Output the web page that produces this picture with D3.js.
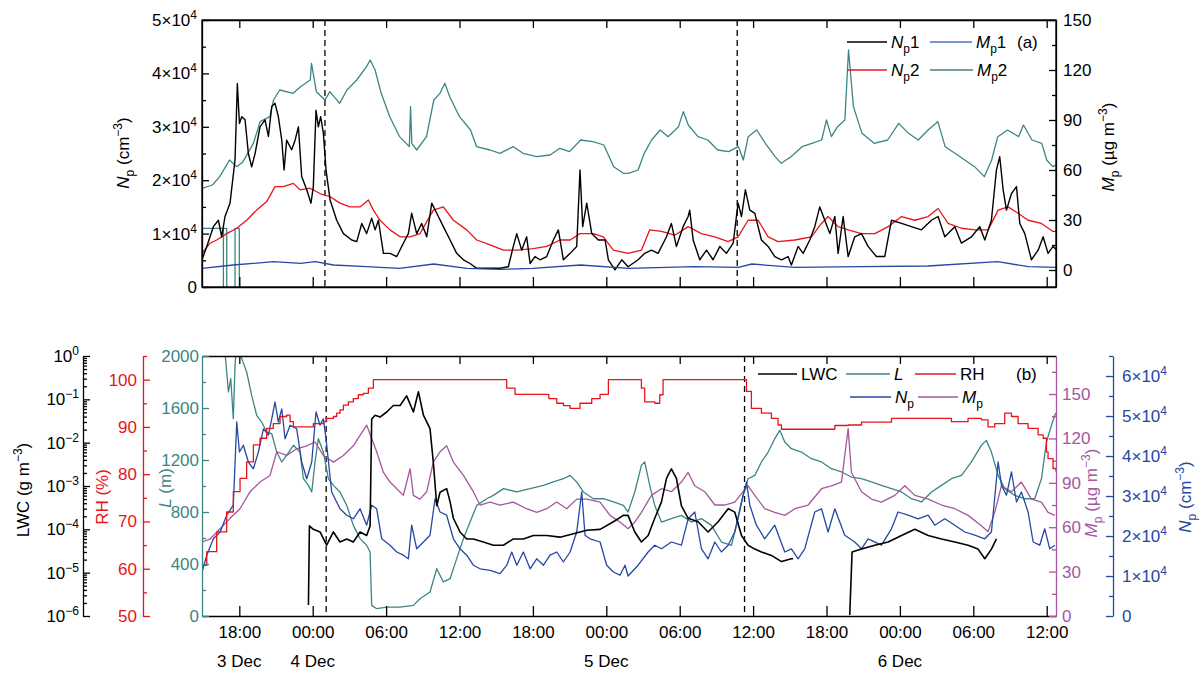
<!DOCTYPE html>
<html>
<head>
<meta charset="utf-8">
<script src="https://cdn.jsdelivr.net/npm/d3@7"></script>
<style>
  body { margin: 0; background: #fff; }
  svg text { font-family: "Liberation Sans", Arial, sans-serif; }
</style>
</head>
<body>
<script>
// time axis: hours after 3 Dec 00:00
var timeTicks = [18, 24, 30, 36, 42, 48, 54, 60, 66, 72, 78, 84];
var dayLabels = [[18, '3 Dec'], [24, '4 Dec'], [48, '5 Dec'], [72, '6 Dec']];
var dashTop = [25.0, 58.7];
var dashBottom = [25.1, 59.3];

// panel (a), Np in 10^4 cm^-3, Mp in ug m^-3
var np1 = [[14.95,0.51],[15.34,0.76],[15.88,1.13],[16.29,1.25],[16.56,0.94],[16.83,1.32],[17.24,1.57],[17.65,2.38],[17.84,3.81],[18.01,3.06],[18.2,3.19],[18.47,3.13],[18.74,2.5],[19.01,2.25],[19.29,2.5],[19.69,3.0],[20.1,3.13],[20.38,2.82],[20.65,3.38],[20.92,3.44],[21.19,3.19],[21.47,2.75],[21.66,2.19],[21.87,2.75],[22.28,2.57],[22.56,2.75],[22.83,3.0],[23.1,2.07],[23.51,1.82],[23.86,1.57],[24.05,1.88],[24.27,3.31],[24.46,3.0],[24.65,3.19],[24.87,2.88],[25.09,2.19],[25.42,1.63],[25.96,1.25],[26.51,1.0],[27.19,0.88],[27.6,0.85],[28.01,1.19],[28.41,1.0],[28.82,1.29],[29.1,1.07],[29.37,1.25],[29.78,0.63],[30.32,0.63],[30.87,0.57],[31.41,0.82],[31.82,1.0],[32.09,1.38],[32.5,1.0],[32.91,1.19],[33.32,0.94],[33.73,1.57],[34.14,1.38],[34.68,1.13],[35.23,0.88],[35.77,0.63],[36.32,0.51],[36.86,0.44],[37.41,0.35],[38.22,0.35],[39.31,0.35],[39.99,0.38],[40.4,0.76],[40.68,1.0],[41.08,0.69],[41.49,0.94],[41.77,0.44],[42.17,0.57],[42.58,0.51],[43.13,0.57],[43.67,0.88],[44.08,1.07],[44.49,0.51],[45.04,0.63],[45.58,0.76],[45.85,2.19],[46.07,1.13],[46.4,1.57],[46.81,1.0],[47.35,0.88],[47.9,0.88],[48.17,0.51],[48.71,0.32],[49.26,0.51],[49.78,0.38],[50.6,0.51],[51.14,0.63],[51.69,0.69],[52.23,0.63],[52.92,0.94],[53.32,1.19],[53.73,0.76],[54.28,1.13],[54.69,1.32],[54.82,1.44],[55.1,0.88],[55.64,0.51],[56.19,0.69],[56.73,0.51],[57.28,0.76],[57.82,0.63],[58.37,0.82],[58.77,1.57],[59.05,1.32],[59.37,1.82],[59.73,1.44],[60.14,1.38],[60.68,0.88],[61.23,0.76],[61.77,0.57],[62.32,0.51],[62.86,0.57],[63.13,0.41],[63.68,0.76],[64.09,0.63],[64.63,0.88],[65.04,1.13],[65.45,1.5],[65.86,1.25],[66.27,1.0],[66.68,1.32],[66.95,0.63],[67.36,1.32],[67.77,0.57],[68.31,0.94],[68.86,1.0],[69.4,0.76],[70.08,0.57],[70.76,0.57],[71.31,1.25],[72.13,1.19],[72.94,1.13],[73.76,1.07],[74.58,1.25],[75.12,1.32],[75.67,0.94],[76.49,1.13],[77.03,0.82],[77.85,0.94],[78.53,1.13],[78.94,0.88],[79.48,1.25],[79.89,2.19],[80.16,2.44],[80.44,1.82],[80.71,1.44],[81.12,1.75],[81.53,1.88],[81.8,1.19],[82.21,1.0],[82.75,0.51],[83.3,0.69],[83.71,0.94],[84.11,0.63],[84.52,0.76],[84.76,0.7]];
var np2 = [[14.95,0.63],[15.61,0.82],[16.15,0.88],[16.97,1.0],[17.79,1.1],[18.6,1.25],[19.42,1.44],[20.24,1.6],[20.92,1.88],[21.6,1.88],[22.42,1.94],[22.96,1.82],[23.78,1.85],[24.6,1.75],[25.42,1.69],[26.23,1.57],[27.05,1.5],[27.87,1.5],[28.55,1.63],[28.96,1.44],[29.5,1.25],[30.32,1.07],[31.14,0.94],[31.96,0.94],[32.77,1.0],[33.86,1.44],[34.68,1.5],[35.5,1.25],[36.59,1.07],[37.41,0.88],[38.5,0.79],[39.59,0.69],[40.68,0.69],[42.04,0.72],[43.13,0.76],[44.22,0.88],[45.04,0.88],[45.85,1.0],[46.94,1.0],[47.76,0.94],[48.58,0.69],[49.78,0.63],[50.87,0.69],[51.55,1.07],[52.51,1.04],[53.6,0.97],[54.69,1.13],[55.78,1.0],[56.87,0.94],[57.96,0.85],[58.77,0.94],[59.59,1.25],[60.41,1.25],[61.23,0.94],[62.04,0.85],[63.41,0.88],[64.77,0.94],[65.59,1.19],[66.13,1.32],[66.95,1.13],[67.77,1.07],[68.86,1.0],[69.95,1.0],[71.04,1.13],[72.13,1.32],[73.22,1.25],[74.31,1.32],[75.12,1.47],[75.94,1.19],[77.03,1.1],[78.12,1.07],[79.21,1.07],[80.03,1.44],[80.84,1.5],[81.66,1.38],[82.48,1.25],[83.57,1.19],[84.52,1.04],[84.76,1.04]];
var mp1 = [[14.95,1],[17.5,3],[20.8,5],[23.0,4],[24.2,5],[25.7,3],[28.4,2],[31.1,1],[33.9,3.6],[36.6,1],[39.3,0.4],[42.0,1],[45.9,3],[49.8,1],[55.2,2],[58.8,1.6],[59.9,3.6],[63.4,1.6],[68.9,2],[74.3,2.4],[80.0,5],[82.5,2],[84.76,1.6]];
var mp2 = [[14.95,49],[15.8,51],[16.4,56],[17.2,66],[17.8,62],[18.3,65],[19.15,76],[19.7,89],[20.5,92],[20.8,102],[21.3,108],[22.4,106],[23.0,110],[23.8,114],[23.9,124],[24.3,107],[25.0,102],[25.4,107],[26.2,100],[26.8,108],[27.6,114],[28.4,122],[28.7,126],[29.1,120],[29.6,106],[30.3,92],[31.1,80],[31.9,74],[32.0,98],[32.1,76],[32.5,72],[33.3,80],[33.9,102],[34.4,106],[34.8,112],[35.2,104],[36.0,92],[36.9,84],[37.4,74],[38.5,72],[39.3,70],[40.4,74],[41.2,70],[42.3,68],[43.4,69],[44.2,73],[45.0,71],[45.9,78],[46.9,77],[47.8,75],[48.6,62],[49.4,58],[49.8,58],[50.6,60],[51.1,70],[51.7,78],[52.4,84],[53.05,80],[53.9,86],[54.3,95],[54.7,87],[55.5,80],[56.3,78],[57.1,72],[58.0,71],[58.8,74],[59.2,66],[59.6,80],[60.3,84],[61.0,76],[61.8,68],[62.3,64],[63.1,68],[64.0,74],[64.8,76],[65.6,78],[66.0,90],[66.4,80],[66.9,86],[67.5,90],[67.8,132],[68.2,98],[68.9,82],[69.9,76],[71.0,78],[71.9,88],[72.7,82],[73.5,78],[74.3,84],[75.1,89],[75.7,74],[76.5,70],[77.3,66],[78.1,62],[78.9,56],[79.5,66],[80.0,80],[80.8,84],[81.7,80],[82.1,87],[82.8,78],[83.6,76],[84.0,66],[84.5,62],[84.76,63]];
// the flat segments and drops of Mp2 at the start of the record
var mp2Gap = [[14.95,25],[16.97,25],[16.97,-11],[16.97,null],[16.7,-11],[16.7,25],[16.7,null],[17.65,-11],[17.65,25],[18.0,25],[18.0,-11]];

// panel (b)
var lwc = [[23.65,1.8e-6],[23.73,1.2e-4],[24.05,1.0e-4],[24.6,8.7e-5],[25.14,4.3e-5],[25.69,8.7e-5],[26.23,5.1e-5],[26.78,6.0e-5],[27.32,5.1e-5],[27.87,8.7e-5],[28.41,7.2e-5],[28.69,1.2e-4],[28.82,3.5e-2],[29.1,4.3e-2],[29.5,3.9e-2],[30.05,5.1e-2],[30.59,7.2e-2],[31.14,7.2e-2],[31.68,0.12],[32.23,5.1e-2],[32.64,0.15],[33.05,4.3e-2],[33.59,2.1e-2],[33.86,3.5e-3],[34.14,3.5e-4],[34.41,7.2e-4],[34.95,8.7e-4],[35.23,4.3e-4],[35.5,1.8e-4],[36.04,8.7e-5],[36.59,6.0e-5],[37.13,6.0e-5],[37.95,5.1e-5],[38.77,4.3e-5],[39.59,4.3e-5],[40.4,6.0e-5],[41.22,6.0e-5],[42.04,7.2e-5],[43.13,7.2e-5],[44.22,6.6e-5],[45.31,7.9e-5],[46.4,9.5e-5],[47.49,1.0e-4],[48.58,1.5e-4],[49.39,2.1e-4],[49.78,2.1e-4],[50.33,8.7e-5],[50.87,5.1e-5],[51.42,7.2e-5],[51.96,1.8e-4],[52.51,4.3e-4],[52.92,1.5e-3],[53.32,2.5e-3],[53.73,1.5e-3],[54.14,3.5e-4],[54.69,1.8e-4],[55.5,1.5e-4],[56.32,8.7e-5],[57.14,1.5e-4],[57.96,3.0e-4],[58.5,2.5e-4],[59.05,7.2e-5],[59.59,4.3e-5],[60.14,3.5e-5],[60.68,3.0e-5],[61.5,2.5e-5],[62.32,1.8e-5],[63.13,2.1e-5],[63.27,2.1e-5],[65.0,null],[67.9,1.05e-6],[68.09,3.0e-5],[68.86,3.5e-5],[69.95,4.3e-5],[71.04,5.1e-5],[72.13,7.2e-5],[73.22,1.0e-4],[74.31,7.2e-5],[75.4,6.0e-5],[76.49,5.1e-5],[77.57,4.3e-5],[78.39,3.5e-5],[78.94,2.1e-5],[79.48,3.5e-5],[79.89,6.0e-5]];
var visL = [[16.8,2300],[16.83,2030],[17.11,1723],[17.3,1826],[17.51,1518],[17.65,1928],[17.79,2100],[18.2,1980],[18.6,1877],[19.01,1697],[19.42,1544],[19.83,1492],[20.24,1415],[20.65,1402],[21.06,1261],[21.47,1185],[21.87,1236],[22.42,1313],[22.96,1261],[23.24,1056],[23.65,1005],[23.92,954],[24.19,1185],[24.46,1364],[24.87,1261],[25.28,1056],[25.69,1005],[26.23,954],[26.78,851],[27.32,697],[27.87,595],[28.41,544],[28.69,492],[28.82,82],[29.23,56],[30.05,69],[31.14,69],[32.23,82],[32.77,133],[33.59,185],[34.14,364],[34.68,262],[35.23,287],[35.77,441],[36.32,595],[36.86,723],[37.41,851],[38.22,902],[38.77,928],[39.59,980],[40.68,954],[41.77,980],[42.86,1005],[43.67,1031],[44.49,1056],[45.04,1082],[45.58,1031],[46.13,954],[46.94,902],[47.76,902],[48.58,877],[49.39,851],[49.78,800],[50.33,954],[50.87,1159],[51.14,1185],[51.55,1005],[51.96,851],[52.51,723],[53.32,749],[54.14,774],[54.96,723],[55.78,749],[56.59,697],[57.41,569],[58.23,544],[58.77,749],[59.18,928],[59.59,1056],[60.14,1082],[60.68,1185],[61.23,1261],[61.77,1364],[62.18,1428],[62.59,1338],[63.13,1287],[63.95,1261],[64.77,1210],[65.59,1185],[66.4,1133],[67.22,1108],[68.04,1069],[68.86,1056],[69.67,1031],[70.49,1005],[71.31,980],[72.13,954],[72.94,902],[73.76,877],[74.58,954],[75.4,1005],[76.21,1056],[77.03,1082],[77.85,1185],[78.66,1313],[79.07,1351],[79.48,1261],[80.03,1082],[80.57,980],[81.39,928],[82.21,902],[83.02,902],[83.57,1056],[83.98,1338],[84.39,1467],[84.66,1544],[84.76,1560]];
var rh = [[14.95,60.7],[15.34,63.6],[16.15,67.8],[16.97,72.0],[17.51,76.3],[18.06,79.1],[18.6,82.6],[19.15,86.2],[19.69,87.6],[20.24,89.7],[20.78,90.7],[21.33,92.2],[21.87,92.5],[22.15,91.1],[22.42,90.0],[23.78,90.0],[24.05,90.7],[24.87,91.1],[25.14,91.8],[25.69,92.2],[25.96,92.9],[26.23,93.6],[26.51,94.6],[26.92,95.3],[27.32,96.0],[27.73,96.8],[28.14,97.1],[28.55,98.2],[28.96,100],[39.7,100],[39.86,98.2],[40.54,96.9],[42.99,96.9],[43.3,96.0],[43.95,95.0],[44.5,94.5],[45.04,93.9],[45.5,93.9],[45.85,95.0],[46.81,96.0],[47.49,96.9],[48.17,100],[50.74,100],[50.87,98.2],[51.14,95.3],[51.96,95.0],[52.37,96.8],[52.64,100],[59.18,100],[59.46,97.5],[59.86,93.9],[60.68,92.9],[61.5,91.8],[62.04,90.4],[62.32,89.5],[65.04,89.5],[66.68,90.3],[67.77,90.4],[68.86,91.0],[71.31,91.8],[75.12,91.8],[76.21,91.1],[77.57,91.8],[78.66,91.5],[79.21,90.0],[79.75,90.7],[80.57,92.9],[81.12,92.2],[81.66,90.7],[82.48,89.7],[83.3,88.3],[83.71,87.6],[83.98,84.7],[84.11,83.3],[84.52,81.2],[84.76,80.5]];
var npB = [[14.95,1.1],[15.34,1.52],[15.88,1.93],[16.43,2.1],[16.97,2.52],[17.51,2.77],[17.79,4.85],[18.01,4.1],[18.33,4.27],[18.74,3.85],[19.15,3.68],[19.56,4.1],[19.97,4.68],[20.38,4.52],[20.65,4.93],[20.92,5.35],[21.19,4.85],[21.47,5.18],[21.74,4.43],[22.15,4.77],[22.69,4.68],[23.1,3.85],[23.51,3.43],[23.92,3.85],[24.27,5.1],[24.6,4.77],[24.87,4.93],[25.09,4.43],[25.55,3.1],[26.23,2.68],[26.78,2.52],[27.32,2.43],[27.87,2.68],[28.41,2.27],[28.82,2.77],[29.23,2.68],[29.64,1.93],[30.32,1.77],[30.87,1.6],[31.41,1.52],[31.82,1.43],[32.09,2.27],[32.5,1.68],[33.05,1.85],[33.59,2.02],[34.0,2.93],[34.41,2.6],[34.95,2.52],[35.5,1.93],[36.04,1.68],[36.59,1.52],[37.13,1.27],[37.68,1.18],[38.5,1.14],[39.31,1.06],[39.86,1.27],[40.27,1.6],[40.68,1.27],[41.22,1.6],[41.77,1.18],[42.31,1.43],[42.86,1.27],[43.4,1.52],[43.95,1.6],[44.49,1.35],[45.04,1.6],[45.58,2.1],[45.99,3.1],[46.26,2.02],[46.67,1.93],[47.49,1.85],[48.03,1.27],[48.58,1.1],[49.12,1.02],[49.53,1.27],[49.78,1.0],[50.6,1.27],[51.42,1.6],[51.96,1.77],[52.51,1.68],[53.32,1.85],[54.14,1.77],[54.69,2.43],[55.23,2.6],[55.78,1.68],[56.32,1.43],[56.87,1.85],[57.41,1.6],[57.96,1.77],[58.5,2.1],[59.05,2.85],[59.46,3.35],[59.73,2.77],[60.27,2.27],[60.95,1.93],[61.77,2.27],[62.59,1.6],[63.13,1.68],[63.68,1.43],[64.22,1.68],[65.04,2.6],[65.59,2.68],[66.13,2.1],[66.68,2.68],[67.49,2.02],[68.31,1.85],[68.86,1.68],[69.4,1.93],[70.49,1.77],[71.31,2.18],[71.85,2.6],[72.67,2.52],[73.49,2.43],[74.31,2.52],[74.85,2.27],[75.67,2.43],[76.49,2.27],[77.3,2.1],[78.12,2.02],[78.94,1.93],[79.48,2.1],[80.03,3.85],[80.3,3.27],[80.71,3.02],[81.12,3.6],[81.53,2.85],[81.93,3.1],[82.48,2.6],[82.89,1.85],[83.43,1.77],[83.84,2.18],[84.25,1.68],[84.66,1.77]];
var mpB = [[14.95,50],[15.61,52],[16.43,59],[17.24,66],[18.06,72.5],[18.88,84],[19.69,90.5],[20.51,95],[21.06,111],[21.87,108.5],[22.69,113],[23.51,115],[24.19,117.6],[24.87,108.5],[25.69,104],[26.51,108.5],[27.32,115],[27.87,122],[28.41,129],[28.82,120],[29.23,111],[29.78,97],[30.32,90.5],[30.87,86],[31.41,81.5],[31.96,99.5],[32.23,81.5],[32.77,79],[33.32,84],[33.86,104],[34.41,111],[34.95,115],[35.5,104],[36.32,95],[37.13,84],[37.68,75],[38.5,77],[39.31,75],[40.4,77],[41.49,72.5],[42.31,70],[43.13,72.5],[43.95,77],[44.76,72.5],[45.58,79],[46.4,79],[47.49,77],[48.3,68],[49.12,63.5],[49.78,59],[50.33,63.5],[50.87,70],[51.69,81.5],[52.51,86],[53.32,84],[54.14,90.5],[54.69,97],[55.23,88],[56.05,84],[56.87,75],[57.68,75],[58.5,77],[59.18,84],[59.59,88],[60.14,81.5],[60.95,72.5],[61.77,70],[62.59,68],[63.41,72.5],[64.5,75],[65.59,86],[66.4,88],[67.22,90.5],[67.77,126.6],[68.04,97],[68.86,84],[69.67,79],[70.49,77],[71.58,81.5],[72.4,88],[73.22,81.5],[74.31,79],[75.4,75],[76.49,72.5],[77.57,68],[78.66,61],[79.21,57],[79.75,70],[80.3,88],[81.12,84],[81.93,90.5],[82.75,79],[83.57,77],[84.11,70],[84.66,68]];

var Chart = {
  left: 202, right: 1056,
  topA: 20, bottomA: 287,
  topB: 356, bottomB: 616,
  fs: 17,
  font: '"Liberation Sans", Arial, sans-serif',
  black: '#000', red: '#e8141b', teal: '#3d8585', blue: '#2548a3',
  lightBlue: '#4f75b8', purple: '#a4579f'
};

// writes a text made of parts; k is 'sub' or 'sup', i means italic
Chart.rich = function(text, parts) {
  var shift = 0;
  parts.forEach(function(p) {
    var target = p.k === 'sub' ? 5 : (p.k === 'sup' ? -7 : 0);
    var ts = text.append('tspan').attr('dy', target - shift).text(p.t);
    if (p.k) ts.attr('font-size', 12);
    if (p.i) ts.attr('font-style', 'italic');
    shift = target;
  });
  return text;
};

Chart.supLabels = function(g) {
  g.selectAll('.tick text').each(function() {
    var t = d3.select(this), s = t.text();
    if (s.indexOf('^') < 0) return;
    var p = s.split('^');
    t.text('');
    t.append('tspan').text(p[0]);
    t.append('tspan').attr('dy', -7).attr('font-size', 12).text(p[1]);
  });
};

Chart.yAxis = function(side, xPos, scale, major, minor, color, fmt, pad) {
  var make = side === 'left' ? d3.axisLeft : d3.axisRight;
  var g = this.svg.append('g').attr('transform', 'translate(' + xPos + ',0)');
  g.call(make(scale).tickValues(major).tickSize(-7).tickSizeOuter(0).tickPadding(pad).tickFormat(fmt));
  g.attr('font-size', this.fs).attr('font-family', this.font);
  if (minor) {
    g.append('g').call(make(scale).tickValues(minor).tickSize(-4).tickFormat(''))
      .select('.domain').remove();
  }
  g.selectAll('path, line').attr('stroke', color).attr('stroke-width', 1.3);
  g.selectAll('text').attr('fill', color);
  this.supLabels(g);
  return g;
};

Chart.xAxis = function(y, axisFn, size, labels) {
  var g = this.svg.append('g').attr('transform', 'translate(0,' + y + ')');
  g.call(axisFn(this.x).tickValues(timeTicks).tickSize(-size).tickSizeOuter(0).tickPadding(10)
    .tickFormat(labels ? function(h) { return d3.format('02')(h % 24) + ':00'; } : ''));
  g.attr('font-size', this.fs).attr('font-family', this.font);
  g.selectAll('path, line').attr('stroke', '#000').attr('stroke-width', 1.3);
  g.selectAll('text').attr('fill', '#000');
  return g;
};

Chart.axisTitle = function(x, y, color, parts) {
  var t = this.svg.append('text').attr('transform', 'translate(' + x + ',' + y + ') rotate(-90)')
    .attr('text-anchor', 'middle').attr('font-size', this.fs).attr('fill', color);
  this.rich(t, parts);
};

Chart.series = function(clip, data, xs, ys, color, width, curve) {
  var line = d3.line().defined(function(d) { return d[1] !== null; })
    .x(function(d) { return xs(d[0]); }).y(function(d) { return ys(d[1]); });
  if (curve) line.curve(curve);
  this.svg.append('path').datum(data).attr('clip-path', 'url(#' + clip + ')')
    .attr('d', line).attr('fill', 'none').attr('stroke', color)
    .attr('stroke-width', width).attr('stroke-linejoin', 'round');
};

Chart.legendItem = function(x1, x2, y, color, parts) {
  this.svg.append('line').attr('x1', x1).attr('x2', x2).attr('y1', y).attr('y2', y)
    .attr('stroke', color).attr('stroke-width', 1.5);
  var t = this.svg.append('text').attr('x', x2 + 4).attr('y', y + 6).attr('font-size', this.fs);
  this.rich(t, parts);
};

Chart.dashes = function(list, y0, y1) {
  var x = this.x;
  this.svg.selectAll(null).data(list).enter().append('line')
    .attr('x1', function(d) { return x(d); }).attr('x2', function(d) { return x(d); })
    .attr('y1', y0).attr('y2', y1)
    .attr('stroke', '#000').attr('stroke-width', 1.3).attr('stroke-dasharray', '6,4');
};

Chart.drawTop = function() {
  var yN = d3.scaleLinear().domain([0, 5]).range([this.bottomA, this.topA]);
  var yM = d3.scaleLinear().domain([-10.2, 150]).range([this.bottomA, this.topA]);
  var x = this.x;

  this.dashes(dashTop, this.topA, this.bottomA);
  this.series('clipA', mp2, x, yM, this.teal, 1.3);
  this.series('clipA', mp2Gap, x, yM, this.teal, 1.3);
  this.series('clipA', np2, x, yN, this.red, 1.3);
  this.series('clipA', np1, x, yN, this.black, 1.4);
  this.series('clipA', mp1, x, yM, this.blue, 1.3);

  this.yAxis('left', this.left, yN, [0, 1, 2, 3, 4, 5], [0.5, 1.5, 2.5, 3.5, 4.5], '#000',
    function(d) { return d === 0 ? '0' : d + '×10^4'; }, 5);
  this.yAxis('right', this.right, yM, [0, 30, 60, 90, 120, 150], [15, 45, 75, 105, 135], '#000',
    function(d) { return d; }, 7);
  this.xAxis(this.bottomA, d3.axisBottom, 10, false);
  this.xAxis(this.topA, d3.axisTop, 8, false);
  this.svg.append('rect').attr('x', this.left).attr('y', this.topA)
    .attr('width', this.right - this.left).attr('height', this.bottomA - this.topA)
    .attr('fill', 'none').attr('stroke', '#000').attr('stroke-width', 1.3);

  this.axisTitle(129, 153, '#000', [{t: 'N', i: 1}, {t: 'p', k: 'sub'}, {t: ' (cm'}, {t: '−3', k: 'sup'}, {t: ')'}]);
  this.axisTitle(1114, 147, '#000', [{t: 'M', i: 1}, {t: 'p', k: 'sub'}, {t: ' (µg m'}, {t: '−3', k: 'sup'}, {t: ')'}]);

  this.legendItem(847, 887, 42, this.black, [{t: 'N', i: 1}, {t: 'p', k: 'sub'}, {t: '1'}]);
  this.legendItem(930, 972, 42, this.lightBlue, [{t: 'M', i: 1}, {t: 'p', k: 'sub'}, {t: '1'}]);
  this.legendItem(847, 887, 70, this.red, [{t: 'N', i: 1}, {t: 'p', k: 'sub'}, {t: '2'}]);
  this.legendItem(930, 973, 70, this.teal, [{t: 'M', i: 1}, {t: 'p', k: 'sub'}, {t: '2'}]);
  this.svg.append('text').attr('x', 1017).attr('y', 48).attr('font-size', this.fs).text('(a)');
};

Chart.drawBottom = function() {
  var x = this.x, b = this.bottomB, t = this.topB;
  var yL = d3.scaleLinear().domain([0, 2000]).range([b, t]);
  var yRH = d3.scaleLinear().domain([50, 105]).range([b, t]);
  var yW = d3.scaleLog().domain([1e-6, 1]).range([b, t]);
  var yM = d3.scaleLinear().domain([0, 175.7]).range([b, t]);
  var yN = d3.scaleLinear().domain([0, 6.5]).range([b, t]);

  this.dashes(dashBottom, t, b);
  this.series('clipB', visL, x, yL, this.teal, 1.3);
  this.series('clipB', mpB, x, yM, this.purple, 1.3);
  this.series('clipB', npB, x, yN, this.blue, 1.3);
  this.series('clipB', rh, x, yRH, this.red, 1.3, d3.curveStepAfter);
  this.series('clipB', lwc, x, yW, this.black, 1.6);

  // outer left axes
  var minorW = [];
  for (var e = -6; e < 0; e++) for (var m = 2; m < 10; m++) minorW.push(m * Math.pow(10, e));
  this.yAxis('left', 83, yW, [1e-6, 1e-5, 1e-4, 1e-3, 1e-2, 1e-1, 1], minorW, '#000',
    function(d) { var p = Math.round(Math.log10(d)); return '10^' + (p < 0 ? '−' + (-p) : p); }, 4);
  this.yAxis('left', 143, yRH, [50, 60, 70, 80, 90, 100], [55, 65, 75, 85, 95, 105], this.red,
    function(d) { return d; }, 6);
  this.xAxis(b, d3.axisBottom, 10, true);
  this.xAxis(t, d3.axisTop, 8, false);
  this.yAxis('left', this.left, yL, [0, 400, 800, 1200, 1600, 2000], [200, 600, 1000, 1400, 1800], this.teal,
    function(d) { return d; }, 3);
  this.yAxis('right', this.right, yM, [0, 30, 60, 90, 120, 150], [15, 45, 75, 105, 135, 165], this.purple,
    function(d) { return d; }, 6);
  this.yAxis('right', 1113, yN, [0, 1, 2, 3, 4, 5, 6], [0.5, 1.5, 2.5, 3.5, 4.5, 5.5, 6.5], this.blue,
    function(d) { return d === 0 ? '0' : d + '×10^4'; }, 9);

  this.svg.selectAll(null).data(dayLabels).enter().append('text')
    .attr('x', function(d) { return x(d[0]); }).attr('y', 667)
    .attr('text-anchor', 'middle').attr('font-size', this.fs).text(function(d) { return d[1]; });

  this.axisTitle(29, 490, '#000', [{t: 'LWC (g m'}, {t: '−3', k: 'sup'}, {t: ')'}]);
  this.axisTitle(108, 497, this.red, [{t: 'RH (%)'}]);
  this.axisTitle(171, 488, this.teal, [{t: 'L', i: 1}, {t: ' (m)'}]);
  this.axisTitle(1097, 493, this.purple, [{t: 'M', i: 1}, {t: 'p', k: 'sub'}, {t: ' (µg m'}, {t: '−3', k: 'sup'}, {t: ')'}]);
  this.axisTitle(1191, 497, this.blue, [{t: 'N', i: 1}, {t: 'p', k: 'sub'}, {t: ' (cm'}, {t: '−3', k: 'sup'}, {t: ')'}]);

  this.legendItem(758, 797, 374, this.black, [{t: 'LWC'}]);
  this.legendItem(846, 890, 374, this.teal, [{t: 'L', i: 1}]);
  this.legendItem(915, 956, 374, this.red, [{t: 'RH'}]);
  this.legendItem(850, 891, 397, this.blue, [{t: 'N', i: 1}, {t: 'p', k: 'sub'}]);
  this.legendItem(918, 958, 397, this.purple, [{t: 'M', i: 1}, {t: 'p', k: 'sub'}]);
  this.svg.append('text').attr('x', 1016).attr('y', 380).attr('font-size', this.fs).text('(b)');
};

Chart.init = function() {
  this.svg = d3.select('body').append('svg').attr('width', 1200).attr('height', 674);
  this.x = d3.scaleLinear().domain([14.95, 84.76]).range([this.left, this.right]);
  var defs = this.svg.append('defs');
  defs.append('clipPath').attr('id', 'clipA').append('rect')
    .attr('x', this.left).attr('y', this.topA).attr('width', this.right - this.left).attr('height', this.bottomA - this.topA);
  defs.append('clipPath').attr('id', 'clipB').append('rect')
    .attr('x', this.left).attr('y', this.topB).attr('width', this.right - this.left).attr('height', this.bottomB - this.topB);
  this.drawTop();
  this.drawBottom();
};

Chart.init();
</script>
</body>
</html>
